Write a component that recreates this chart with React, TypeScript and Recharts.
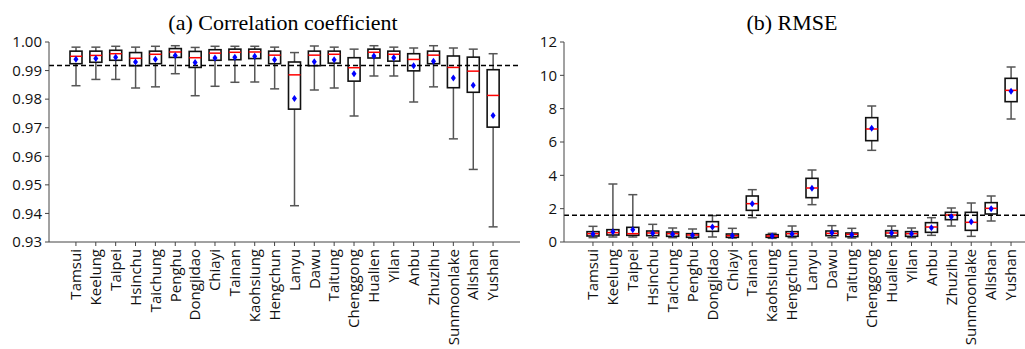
import React from 'react';
import { Bar, ComposedChart, Line, ReferenceLine, XAxis, YAxis } from 'recharts';

const stations = [
  'Tamsui', 'Keelung', 'Taipei', 'Hsinchu', 'Taichung', 'Penghu', 'Dongjidao', 'Chiayi',
  'Tainan', 'Kaohsiung', 'Hengchun', 'Lanyu', 'Dawu', 'Taitung', 'Chenggong', 'Hualien',
  'Yilan', 'Anbu', 'Zhuzihu', 'Sunmoonlake', 'Alishan', 'Yushan',
];

// (a) correlation coefficient
const corrMax = [0.9982, 0.9982, 0.9985, 0.9982, 0.9985, 0.9987, 0.9981, 0.9985, 0.9985, 0.9985, 0.9982, 0.9963, 0.9986, 0.9982, 0.9975, 0.9987, 0.9982, 0.9979, 0.9987, 0.9979, 0.9975, 0.9959];
const corrQ3 = [0.9968, 0.9968, 0.9971, 0.9963, 0.9968, 0.9977, 0.9967, 0.9973, 0.9975, 0.9975, 0.9968, 0.993, 0.9968, 0.9968, 0.9945, 0.9975, 0.9968, 0.9959, 0.9968, 0.9951, 0.9947, 0.9903];
const corrMedian = [0.995, 0.9953, 0.9959, 0.9943, 0.9957, 0.9965, 0.9945, 0.9961, 0.9964, 0.9965, 0.9954, 0.9885, 0.9954, 0.9957, 0.991, 0.9964, 0.9957, 0.9939, 0.9954, 0.9911, 0.9898, 0.9813];
const corrQ1 = [0.9924, 0.9929, 0.9936, 0.9917, 0.9924, 0.9946, 0.9911, 0.9936, 0.9938, 0.9942, 0.9924, 0.9765, 0.9917, 0.9926, 0.9863, 0.9944, 0.9933, 0.9899, 0.9924, 0.984, 0.9824, 0.9702];
const corrMin = [0.9847, 0.9869, 0.9869, 0.9839, 0.9843, 0.9889, 0.9812, 0.9845, 0.9859, 0.986, 0.9836, 0.9427, 0.9832, 0.9839, 0.9741, 0.9881, 0.9881, 0.979, 0.9843, 0.9661, 0.9554, 0.9353];
const corrMean = [0.994, 0.9942, 0.9947, 0.993, 0.994, 0.9953, 0.9928, 0.9944, 0.9947, 0.995, 0.9938, 0.9802, 0.9931, 0.9938, 0.9889, 0.9951, 0.9945, 0.9917, 0.9933, 0.9874, 0.9849, 0.9743];
const corrTicks = [0.93, 0.94, 0.95, 0.96, 0.97, 0.98, 0.99, 1.0];
const corrRef = 0.9918;

// (b) RMSE
const rmseMax = [0.94, 3.48, 2.84, 1.06, 0.84, 0.78, 1.58, 0.82, 3.14, 0.52, 0.96, 4.32, 0.98, 0.82, 8.16, 0.96, 0.84, 1.46, 2.04, 2.34, 2.76, 10.5];
const rmseQ3 = [0.62, 0.74, 0.88, 0.66, 0.6, 0.5, 1.22, 0.48, 2.76, 0.44, 0.62, 3.82, 0.66, 0.54, 7.46, 0.68, 0.62, 1.16, 1.78, 1.78, 2.36, 9.82];
const rmseMedian = [0.5, 0.56, 0.5, 0.54, 0.5, 0.42, 0.92, 0.38, 2.3, 0.36, 0.5, 3.24, 0.52, 0.46, 6.78, 0.54, 0.5, 0.9, 1.62, 1.18, 2.02, 9.1];
const rmseQ1 = [0.36, 0.42, 0.4, 0.38, 0.34, 0.28, 0.64, 0.28, 1.9, 0.28, 0.34, 2.66, 0.38, 0.32, 6.08, 0.36, 0.34, 0.58, 1.34, 0.7, 1.68, 8.42];
const rmseMin = [0.26, 0.3, 0.3, 0.26, 0.26, 0.22, 0.3, 0.24, 1.46, 0.22, 0.26, 2.24, 0.26, 0.24, 5.5, 0.26, 0.26, 0.4, 0.96, 0.34, 1.26, 7.38];
const rmseMean = [0.48, 0.62, 0.74, 0.52, 0.46, 0.4, 0.9, 0.38, 2.3, 0.36, 0.48, 3.22, 0.56, 0.44, 6.82, 0.54, 0.5, 0.86, 1.52, 1.22, 2.0, 9.04];
const rmseTicks = [0, 2, 4, 6, 8, 10, 12];
const rmseRef = 1.6;

type Row = { name: string; min: number; q1: number; median: number; q3: number; max: number; mean: number };

const buildRows = (min: number[], q1: number[], median: number[], q3: number[], max: number[], mean: number[]): Row[] =>
  stations.map((name, i) => ({ name, min: min[i], q1: q1[i], median: median[i], q3: q3[i], max: max[i], mean: mean[i] }));

const corrRows = buildRows(corrMin, corrQ1, corrMedian, corrQ3, corrMax, corrMean);
const rmseRows = buildRows(rmseMin, rmseQ1, rmseMedian, rmseQ3, rmseMax, rmseMean);

const SANS = '"Open Sans", sans-serif';
const AXIS = '#444';
const TEXT = '#111';

// box drawn inside the [min, max] range bar, positions interpolated on the bar's pixel span
const BoxShape = (props: any) => {
  const { x, y, width, height, payload } = props;
  if (x == null || y == null || !payload) return null;
  const { min, q1, median, q3, max } = payload as Row;
  const top = Math.min(y, y + height);
  const h = Math.abs(height);
  const span = max - min || 1;
  const toY = (v: number) => top + (h * (max - v)) / span;
  const cx = x + width / 2;
  const half = 6;
  const cap = 4.5;
  return (
    <g>
      <line x1={cx} x2={cx} y1={toY(max)} y2={toY(q3)} stroke="#555" strokeWidth={1.5} />
      <line x1={cx} x2={cx} y1={toY(q1)} y2={toY(min)} stroke="#555" strokeWidth={1.5} />
      <line x1={cx - cap} x2={cx + cap} y1={toY(max)} y2={toY(max)} stroke="#555" strokeWidth={1.5} />
      <line x1={cx - cap} x2={cx + cap} y1={toY(min)} y2={toY(min)} stroke="#555" strokeWidth={1.5} />
      <rect x={cx - half} y={toY(q3)} width={half * 2} height={Math.max(toY(q1) - toY(q3), 0.5)} fill="#fff" stroke="#111" strokeWidth={1.6} />
      <line x1={cx - half} x2={cx + half} y1={toY(median)} y2={toY(median)} stroke="#ff0000" strokeWidth={1.5} />
    </g>
  );
};

const MeanDot = (props: any) => {
  const { cx, cy } = props;
  if (cx == null || cy == null) return null;
  return <polygon points={`${cx},${cy - 3.5} ${cx + 2.5},${cy} ${cx},${cy + 3.5} ${cx - 2.5},${cy}`} fill="#0000ff" />;
};

const StationTick = (props: any) => {
  const { x, y, payload } = props;
  return (
    <g transform={`translate(${x},${y})`}>
      <text transform="rotate(-90)" textAnchor="end" dy="0.35em" fontSize={15} fill={TEXT} fontFamily={SANS}>
        {payload.value}
      </text>
    </g>
  );
};

interface PanelProps {
  rows: Row[];
  domain: [number, number];
  ticks: number[];
  refValue: number;
  yWidth: number;
  padding: number;
  width: number;
  marginRight: number;
  fmt: (v: number) => string;
}

const BoxPanel = ({ rows, domain, ticks, refValue, yWidth, padding, width, marginRight, fmt }: PanelProps) => (
  <ComposedChart width={width} height={349} data={rows} margin={{ top: 42, right: marginRight, bottom: 0, left: 0 }}>
    <XAxis
      dataKey="name"
      interval={0}
      tick={<StationTick />}
      tickSize={4}
      tickMargin={3}
      height={107}
      padding={{ left: padding, right: padding }}
      axisLine={{ stroke: AXIS }}
      tickLine={{ stroke: AXIS }}
    />
    <XAxis xAxisId="top" orientation="top" dataKey="name" height={0} tick={false} tickLine={false} axisLine={{ stroke: AXIS }} />
    <YAxis
      domain={domain}
      ticks={ticks}
      allowDataOverflow
      width={yWidth}
      tickSize={4}
      tickMargin={3}
      tickFormatter={fmt}
      tick={{ fontSize: 15, fill: TEXT, fontFamily: SANS }}
      axisLine={{ stroke: AXIS }}
      tickLine={{ stroke: AXIS }}
    />
    <YAxis yAxisId="right" orientation="right" domain={domain} width={0} tick={false} tickLine={false} axisLine={{ stroke: AXIS }} />
    <ReferenceLine y={refValue} stroke="#000" strokeWidth={1.5} strokeDasharray="5 3" />
    <Bar dataKey={(d: Row) => [d.min, d.max]} barSize={12} shape={<BoxShape />} isAnimationActive={false} />
    <Line dataKey="mean" stroke="none" dot={<MeanDot />} activeDot={false} isAnimationActive={false} />
  </ComposedChart>
);

const titleStyle: React.CSSProperties = {
  position: 'absolute',
  top: 10,
  fontFamily: '"Liberation Serif", "Times New Roman", serif',
  fontSize: 22,
  lineHeight: '26px',
  textAlign: 'center',
  color: '#000',
};

export default function App() {
  return (
    <div style={{ position: 'absolute', left: 0, top: 0, width: 1025, height: 349, overflow: 'hidden', background: '#fff' }}>
      <div style={{ position: 'absolute', left: 0, top: 0 }}>
        <BoxPanel
          rows={corrRows}
          domain={[0.93, 1.0]}
          ticks={corrTicks}
          refValue={corrRef}
          yWidth={49}
          padding={17}
          width={525}
          marginRight={5}
          fmt={(v) => v.toFixed(2)}
        />
      </div>
      <div style={{ position: 'absolute', left: 520, top: 0 }}>
        <BoxPanel
          rows={rmseRows}
          domain={[0, 12]}
          ticks={rmseTicks}
          refValue={rmseRef}
          yWidth={44}
          padding={19}
          width={530}
          marginRight={10}
          fmt={(v) => String(v)}
        />
      </div>
      <div style={{ ...titleStyle, left: 0, width: 566 }}>(a) Correlation coefficient</div>
      <div style={{ ...titleStyle, left: 592, width: 400 }}>(b) RMSE</div>
    </div>
  );
}
